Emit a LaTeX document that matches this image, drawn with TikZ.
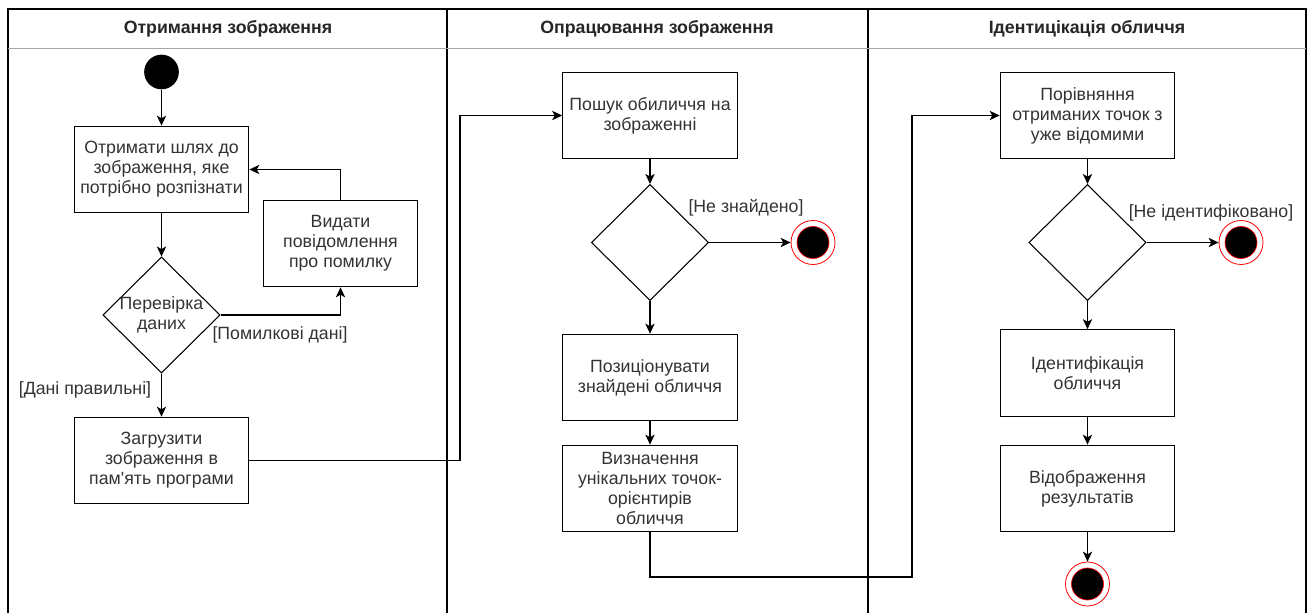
\documentclass[tikz,border=0pt]{standalone}
\usepackage{fontspec}
\setmainfont{Liberation Sans}
\usetikzlibrary{shapes.geometric, arrows.meta, positioning, calc}

\begin{document}
\begin{tikzpicture}[x=0.75pt, y=-0.75pt, lane/.style={line width=0.8pt,
      black}, lanetitle/.style={font=\bfseries\fontsize{13.3pt}{15pt}\selectfont,
      text=black!85}, action/.style={rectangle, draw, line width=0.8pt,
      fill=white, minimum width=131pt, minimum height=65pt, align=center,
      inner sep=2pt, font=\fontsize{13.3pt}{15pt}\selectfont, text=black!80},
      decision/.style={diamond, draw, line width=0.8pt, minimum width=88pt,
      minimum height=87pt, inner sep=0pt}, initial/.style={circle,
      fill=black, minimum size=26pt, inner sep=0pt}, final/.style={circle,
      draw=red, line width=0.6pt, fill=white, minimum size=33pt, inner sep=0pt,
      path picture={\filldraw[fill=black, draw=red, line width=0.5pt] (path
      picture bounding box.center) circle (12pt);}}, flow/.style={line
      width=0.8pt, -{Stealth[length=7.5pt, width=7pt, inset=2pt]}},
      guard/.style={font=\fontsize{13.3pt}{15pt}\selectfont, text=black!80} ]
    \useasboundingbox (0,0) rectangle (1311,613);

    % Swimlanes
    \draw[lane] (8,613) -- (8,9) -- (1306,9) -- (1306,613); \draw[lane]
    (447,9) -- (447,613); \draw[lane] (868,9) -- (868,613);
    \draw[black!35, line width=0.6pt] (8,48) -- (1306,48);
    \node[lanetitle] (hdrget) at (228,29) {Отримання зображення};
    \node[lanetitle] (hdrproc) at (657,29) {Опрацювання зображення};
    \node[lanetitle] (hdrid) at (1087,29) {Ідентицікація обличчя};

    % Getting the image
    \node[initial] (start) at (161.5,72) {}; \node[action] (getpath) at
    (161.5,169.5) {Отримати шлях до\\зображення, яке\\потрібно розпізнати};
    \node[decision, label={[guard, align=center]center:Перевірка\\даних}]
    (check) at (161.5,315) {}; \node[action, minimum width=115pt] (errmsg) at
    (340.5,243.5) {Видати\\повідомлення\\про помилку}; \node[action] (load) at
    (161.5,460.5) {Загрузити\\зображення в\\пам\textquotesingle ять програми};

    % Processing the image
    \node[action] (search) at (650,115.5) {Пошук обиличчя на\\зображенні};
    \node[decision] (found) at (650,242.5) {}; \node[final] (fin1) at
    (813,242.5) {}; \node[action] (place) at (650,377.5)
    {Позиціонувати\\знайдені обличчя}; \node[action] (landm) at (650,488.5)
    {Визначення\\унікальних точок-\\орієнтирів\\обличчя};

    % Identification
    \node[action] (compare) at (1087.5,115.5) {Порівняння\\отриманих точок з\\уже
    відомими}; \node[decision] (known) at (1087.5,242.5) {}; \node[final]
    (fin2) at (1241,242.5) {}; \node[action] (ident) at (1087.5,373)
    {Ідентифікація\\обличчя}; \node[action] (show) at (1087.5,488.5)
    {Відображення\\результатів}; \node[final] (fin3) at (1087.5,584) {};

    % Guards
    \node[guard] (gerr) at (280,335) {[Помилкові дані]}; \node[guard] (gok) at
    (85,390) {[Дані правильні]}; \node[guard] (gnf) at (746,208) {[Не
    знайдено]}; \node[guard] (gni) at (1211,213) {[Не ідентифіковано]};

    % Bend points
    \coordinate (bend1) at (460,0); \coordinate (bend2) at (912,577);

    % Flows
    \draw[flow] (start) -- (getpath); \draw[flow] (getpath) -- (check);
    \draw[flow] (check.east) -| (errmsg.south); \draw[flow] (errmsg.north) |-
    (getpath.east); \draw[flow] (check) -- (load);
    \draw[flow] (load.east) -- (load.east -| bend1) |- (search.west);
    \draw[flow] (search) -- (found); \draw[flow] (found) -- (fin1);
    \draw[flow] (found) -- (place); \draw[flow] (place) -- (landm);
    \draw[flow] (landm.south) |- (bend2) |- (compare.west);
    \draw[flow] (compare) -- (known); \draw[flow] (known) -- (fin2);
    \draw[flow] (known) -- (ident); \draw[flow] (ident) -- (show);
    \draw[flow] (show) -- (fin3);

    \end{tikzpicture}
\end{document}
